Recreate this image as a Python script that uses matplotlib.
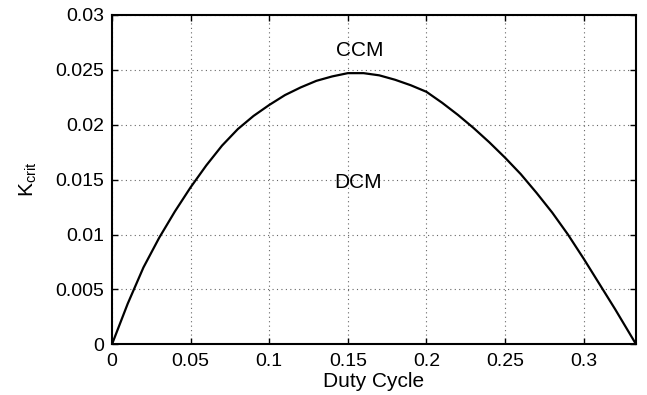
import numpy as np
import matplotlib
matplotlib.use("Agg")
import matplotlib.pyplot as plt

plt.rcParams['font.family'] = ['Liberation Sans', 'DejaVu Sans']

# duty cycle vs critical K
duty = [0.0, 0.01, 0.02, 0.03, 0.04, 0.05, 0.06, 0.07, 0.08, 0.09, 0.10,
        0.11, 0.12, 0.13, 0.14, 0.15, 0.16, 0.17, 0.18, 0.19, 0.20, 0.21,
        0.22, 0.23, 0.24, 0.25, 0.26, 0.27, 0.28, 0.29, 0.30, 0.31, 0.32,
        0.33, 1/3]
kcrit = [0.0, 0.0037, 0.0070, 0.0097, 0.0121, 0.0143, 0.0163, 0.0181,
         0.0196, 0.0208, 0.0218, 0.0227, 0.0234, 0.0240, 0.0244, 0.0247,
         0.0247, 0.0245, 0.0241, 0.0236, 0.0230, 0.0220, 0.0209, 0.0197,
         0.0184, 0.0170, 0.0155, 0.0138, 0.0120, 0.0100, 0.0078, 0.0055,
         0.0032, 0.0008, 0.0]

xticks = [0, 0.05, 0.1, 0.15, 0.2, 0.25, 0.3]
xticklabels = ['0', '0.05', '0.1', '0.15', '0.2', '0.25', '0.3']
yticks = [0, 0.005, 0.01, 0.015, 0.02, 0.025, 0.03]
yticklabels = ['0', '0.005', '0.01', '0.015', '0.02', '0.025', '0.03']

fig = plt.figure(figsize=(6.47, 3.95), dpi=100)
ax = fig.add_axes([0.1731, 0.1284, 0.810, 0.8337])

ax.plot(duty, kcrit, color='k', lw=1.6)
ax.text(0.1578, 0.0268, 'CCM', ha='center', va='center', fontsize=15)
ax.text(0.1565, 0.0147, 'DCM', ha='center', va='center', fontsize=15)

ax.set_xlim(0, 1/3)
ax.set_ylim(0, 0.03)
ax.set_xticks(xticks)
ax.set_xticklabels(xticklabels)
ax.set_yticks(yticks)
ax.set_yticklabels(yticklabels)
ax.tick_params(direction='in', length=4, width=1, labelsize=14,
               top=True, right=True)
ax.tick_params(axis='x', pad=6.5)
ax.tick_params(axis='y', pad=5.5)
ax.grid(True, color='#666666', linestyle=(0, (1, 3)), lw=0.8)
for s in ax.spines.values():
    s.set_linewidth(1.5)

ax.set_xlabel('Duty Cycle', fontsize=15, labelpad=1)
ax.set_ylabel(r'$\mathregular{K_{crit}}$', fontsize=15, labelpad=12)

fig.savefig('out.png', dpi=100)
